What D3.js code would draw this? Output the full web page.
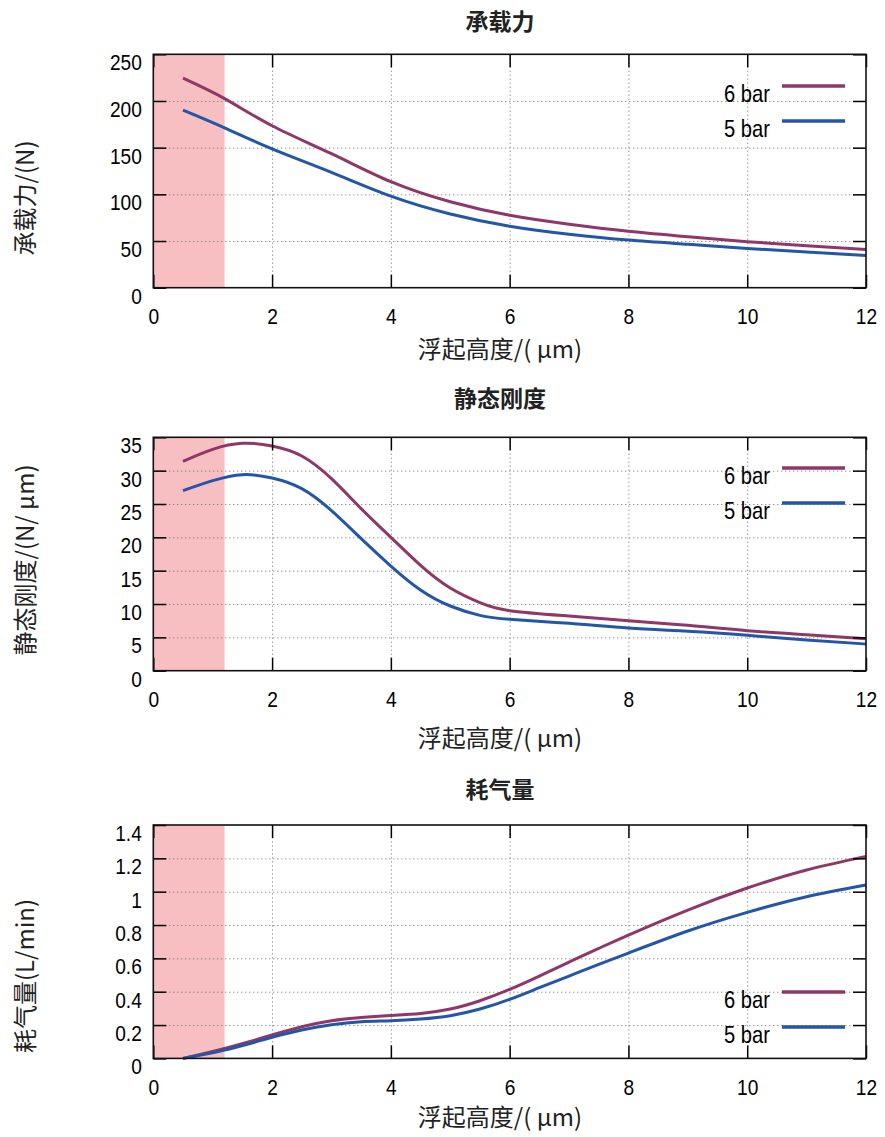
<!DOCTYPE html>
<html><head><meta charset="utf-8">
<script src="https://cdn.jsdelivr.net/npm/d3@7"></script>
<style>
html,body{margin:0;padding:0;background:#fff;}
svg{display:block;}
</style>
</head><body>
<svg id="chart" width="885" height="1137"></svg>
<script>
// ---- data ----
const seriesNames = ["6 bar", "5 bar"];
const seriesColors = ["#8E3768", "#2456A6"];
const shadeRange = [0, 1.2];
const xTicks = [0, 2, 4, 6, 8, 10, 12];

const titles = ["承载力", "静态刚度", "耗气量"];
const yLabels = ["承载力/(N)", "静态刚度/(N/ μm)", "耗气量(L/min)"];
const xLabel = "浮起高度/( μm)";

const yTicks1 = [0, 50, 100, 150, 200, 250];
const yTicks2 = [0, 5, 10, 15, 20, 25, 30, 35];
const yTicks3 = [0, 0.2, 0.4, 0.6, 0.8, 1, 1.2, 1.4];

const x1 = [0.5, 1.2, 2, 3, 4, 5, 6, 7, 8, 9, 10, 11, 12];
const load6 = [224.4, 202.5, 173.5, 143.5, 113.5, 92, 77.5, 68, 60.5, 54.6, 49.3, 45, 41];
const load5 = [190.3, 171.3, 148.7, 123.5, 98, 78.9, 65.8, 57.3, 51, 46.5, 42.1, 38.2, 34.6];

const x2 = [0.5, 1, 1.5, 2, 2.5, 3, 3.5, 4, 4.5, 5, 5.5, 6, 7, 8, 9, 10, 11, 12];
const stiff6 = [31.4, 33.2, 34.1, 33.7, 32.2, 28.8, 24.3, 20, 15.8, 12.4, 10.2, 9.0, 8.2, 7.5, 6.8, 6.0, 5.4, 4.8];
const stiff5 = [27, 28.5, 29.4, 28.9, 27.3, 24, 19.8, 15.7, 12.1, 9.7, 8.3, 7.7, 7.1, 6.4, 5.9, 5.3, 4.6, 4.0];

const x3 = [0.5, 1.2, 2, 2.5, 3, 3.5, 4, 4.5, 5, 5.5, 6, 6.5, 7, 7.5, 8, 9, 10, 11, 12];
const flow6 = [0, 0.06, 0.14, 0.19, 0.226, 0.246, 0.258, 0.27, 0.296, 0.346, 0.414, 0.494, 0.578, 0.66, 0.74, 0.89, 1.022, 1.13, 1.212];
const flow5 = [0, 0.05, 0.126, 0.17, 0.202, 0.22, 0.226, 0.236, 0.256, 0.296, 0.354, 0.424, 0.494, 0.564, 0.632, 0.764, 0.876, 0.97, 1.04];

// ---- layout ----
const svg = d3.select("#chart");
const left = 153.3, right = 866;
const plotH = 233.4;
const CJK = "'Noto Sans CJK SC', 'Noto Sans', sans-serif";
const LAT = "'Liberation Sans', Arial, sans-serif";

const panels = [
  {top: 54.3, xs: x1, s: [load6, load5], ticks: yTicks1, max: 250, fmt: d => String(d),
   titleY: 22, yLabelY: 198, legendY: 86, xLabelY: 350},
  {top: 437.3, xs: x2, s: [stiff6, stiff5], ticks: yTicks2, max: 35, fmt: d => String(d),
   titleY: 399, yLabelY: 560, legendY: 468, xLabelY: 739},
  {top: 825, xs: x3, s: [flow6, flow5], ticks: yTicks3, max: 1.4, fmt: d => String(+d.toFixed(1)),
   titleY: 790, yLabelY: 976, legendY: 992, xLabelY: 1118}
];

const x = d3.scaleLinear().domain([0, 12]).range([left, right]);

panels.forEach((p, i) => {
  const bottom = p.top + plotH;
  const y = d3.scaleLinear().domain([0, p.max]).range([bottom, p.top]);
  const g = svg.append("g");

  // shaded region
  g.append("rect")
    .attr("x", x(shadeRange[0])).attr("y", p.top)
    .attr("width", x(shadeRange[1]) - x(shadeRange[0]))
    .attr("height", plotH)
    .attr("fill", "#F7BFC1");

  // grid
  const innerY = p.ticks.filter(t => t > 0 && t < p.max);
  const innerX = xTicks.filter(t => t > 0 && t < 12);
  const gridStyle = a => a.selectAll("line").attr("stroke", "#666").attr("stroke-width", 1).attr("stroke-dasharray", "1,3").classed("grid", true);
  g.append("g").attr("transform", `translate(${left},0)`)
    .call(d3.axisLeft(y).tickValues(innerY).tickSize(-(right - left)).tickFormat(""))
    .call(a => a.select(".domain").remove())
    .call(gridStyle);
  g.append("g").attr("transform", `translate(0,${bottom})`)
    .call(d3.axisBottom(x).tickValues(innerX).tickSize(-plotH).tickFormat(""))
    .call(a => a.select(".domain").remove())
    .call(gridStyle);

  // lines
  const line = d3.line().x(d => x(d[0])).y(d => y(d[1])).curve(d3.curveNatural);
  p.s.forEach((vals, k) => {
    g.append("path")
      .datum(p.xs.map((xv, j) => [xv, vals[j]]))
      .attr("fill", "none")
      .attr("stroke", seriesColors[k])
      .attr("stroke-width", 3)
      .attr("d", line);
  });

  // axes with inward ticks
  const tickLen = 13;
  const yAx = g.append("g").attr("transform", `translate(${left},0)`)
    .call(d3.axisLeft(y).tickValues(p.ticks).tickSize(-tickLen).tickPadding(12).tickFormat(p.fmt));
  yAx.selectAll("text")
    .attr("x", 0).attr("y", 0).attr("dy", "0.36em")
    .attr("transform", "translate(-11.5,7.5) scale(0.87,1)");
  g.append("g").attr("transform", `translate(${right},0)`)
    .call(d3.axisRight(y).tickValues(p.ticks).tickSize(-tickLen).tickFormat(""));
  const xAx = g.append("g").attr("transform", `translate(0,${bottom})`)
    .call(d3.axisBottom(x).tickValues(xTicks).tickSize(-tickLen).tickPadding(21).tickFormat(d => String(d)));
  xAx.selectAll("text")
    .attr("x", 0).attr("y", 0).attr("dy", "0.36em")
    .attr("transform", "translate(0,28.5) scale(0.87,1)");
  g.append("g").attr("transform", `translate(0,${p.top})`)
    .call(d3.axisTop(x).tickValues(xTicks).tickSize(-tickLen).tickFormat(""));

  g.selectAll(".tick line").filter(function(){ return !d3.select(this).classed("grid"); })
    .attr("stroke", "#000").attr("stroke-width", 1.5);
  g.selectAll(".domain").remove();
  g.selectAll(".tick text").attr("font-family", LAT).attr("font-size", 22).attr("fill", "#000");

  // frame
  g.append("rect")
    .attr("x", left).attr("y", p.top).attr("width", right - left).attr("height", plotH)
    .attr("fill", "none").attr("stroke", "#111").attr("stroke-width", 1.6);

  // legend
  seriesNames.forEach((name, k) => {
    const ly = p.legendY + k * 35;
    g.append("line")
      .attr("x1", 782).attr("x2", 845).attr("y1", ly).attr("y2", ly)
      .attr("stroke", seriesColors[k]).attr("stroke-width", 3.5);
    g.append("text")
      .attr("transform", `translate(770,${ly + 7.5}) scale(0.84,1)`)
      .attr("dy", "0.36em")
      .attr("text-anchor", "end")
      .attr("font-family", LAT).attr("font-size", 24).attr("fill", "#000")
      .text(name);
  });

  // title
  g.append("text")
    .attr("x", 500).attr("y", p.titleY).attr("dy", "0.35em")
    .attr("text-anchor", "middle").attr("font-family", CJK)
    .attr("font-weight", "bold").attr("font-size", 23).attr("fill", "#222")
    .text(titles[i]);

  // x label
  g.append("text")
    .attr("x", 500).attr("y", p.xLabelY).attr("dy", "0.35em")
    .attr("text-anchor", "middle").attr("font-family", CJK)
    .attr("font-size", 24).attr("fill", "#222")
    .text(xLabel);

  // y label
  g.append("text")
    .attr("transform", `translate(26,${p.yLabelY}) rotate(-90)`)
    .attr("dy", "0.35em")
    .attr("text-anchor", "middle").attr("font-family", CJK)
    .attr("font-size", 24).attr("fill", "#222")
    .text(yLabels[i]);
});
</script>
</body></html>
